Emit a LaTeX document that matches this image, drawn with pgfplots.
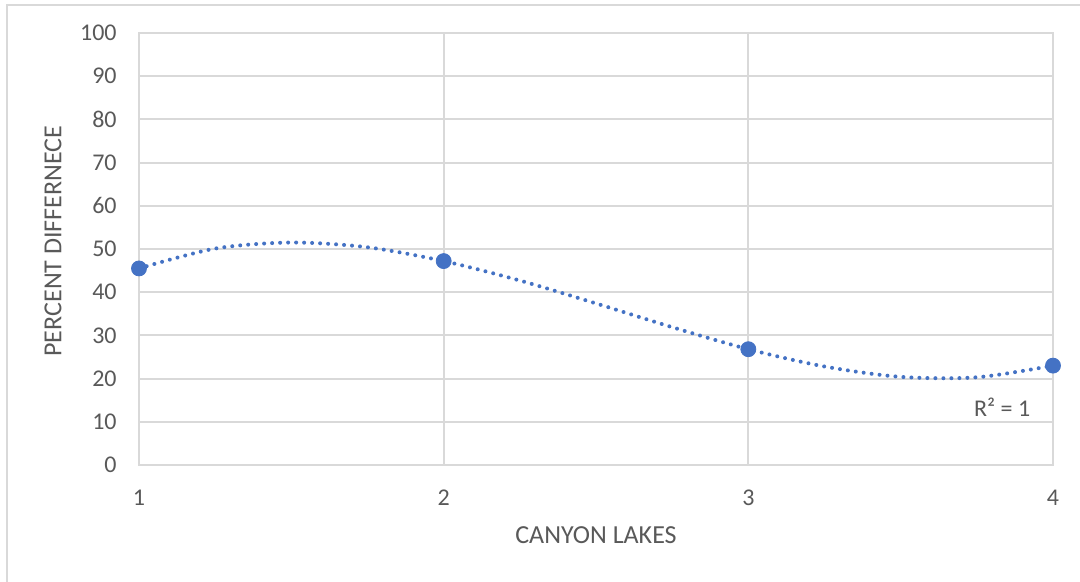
\documentclass[border=0pt]{standalone}
\usepackage{pgfplots}
\pgfplotsset{compat=1.18}
\usepackage{fontspec}
\setmainfont{Carlito}
\definecolor{txt}{HTML}{595959}
\definecolor{grd}{HTML}{D9D9D9}
\definecolor{ser}{HTML}{4472C4}
\begin{document}
\begin{tikzpicture}
\path[use as bounding box] (0,0) rectangle (540pt,291pt);
\draw[grd, line width=1pt] (3.5pt,0) -- (3.5pt,288.5pt) -- (540pt,288.5pt);
\begin{axis}[
  at={(69.5pt,58.5pt)}, anchor=south west,
  scale only axis, width=457pt, height=216pt,
  xmin=1, xmax=4, ymin=0, ymax=100,
  xtick={1,2,3,4}, ytick={0,10,...,100},
  grid=major,
  major grid style={grd, line width=1pt},
  axis line style={grd, line width=1pt},
  major tick length=0pt,
  tick style={draw=none},
  /pgf/number format/assume math mode=true,
  tick label style={font=\fontsize{12}{14}\selectfont, text=txt},
  yticklabel style={anchor=east, inner sep=0pt, xshift=-11pt},
  xticklabel style={anchor=north, inner sep=0pt, yshift=-12.5pt},
  xlabel={CANYON LAKES},
  ylabel={PERCENT DIFFERNECE},
  every axis x label/.style={at={([yshift=-35pt]axis description cs:0.5,0)}, anchor=center, font=\fontsize{13}{15}\selectfont, text=txt, inner sep=0pt},
  every axis y label/.style={at={([xshift=-43pt]axis description cs:0,0.5185)}, anchor=center, rotate=90, font=\fontsize{13}{15}\selectfont, text=txt, inner sep=0pt},
  clip=false,
]
\addplot[ser, line width=2pt, line cap=round, dash pattern=on 0pt off 4pt, smooth, tension=0.5] coordinates {
(1.00,45.5) (1.25,50.1) (1.50,51.5) (1.75,50.4) (2.00,47.2) (2.25,42.7) (2.50,37.4)
(2.75,31.9) (3.00,26.8) (3.25,22.8) (3.50,20.4) (3.75,20.3) (4.00,23.0)
};
\addplot[only marks, mark=*, mark size=3.75pt, mark options={fill=ser, draw=ser}] coordinates {
(1,45.5) (2,47.2) (3,26.8) (4,23.0)
};
\node[text=txt, font=\fontsize{12}{14}\selectfont] at (axis cs:3.833,13.4) {R² = 1};
\end{axis}
\end{tikzpicture}
\end{document}
